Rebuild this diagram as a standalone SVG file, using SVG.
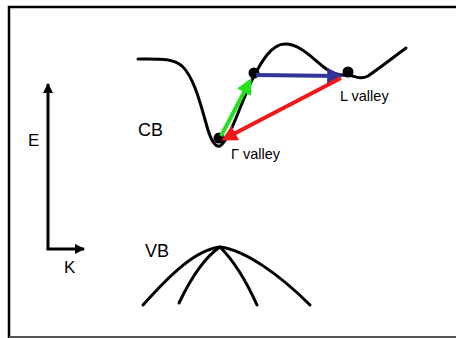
<svg xmlns="http://www.w3.org/2000/svg" width="456" height="338" viewBox="0 0 456 338">
<defs>
<style>
.curve{fill:none;stroke:#000;stroke-width:3;stroke-linecap:round;stroke-linejoin:round}
.axis{fill:none;stroke:#000;stroke-width:3}
.lbl{font-family:"Liberation Sans",Arial,sans-serif;fill:#000}
.dot{fill:#000}
</style>
<marker id="ah" viewBox="0 0 10 10" refX="8" refY="5" markerWidth="4" markerHeight="4" orient="auto" markerUnits="strokeWidth"><path d="M0,0L10,5L0,10z" fill="context-stroke"/></marker>
<marker id="axh" viewBox="0 0 10 10" refX="9" refY="5" markerWidth="3.5" markerHeight="3.5" orient="auto" markerUnits="strokeWidth"><path d="M0,0L10,5L0,10z" fill="#000"/></marker>
</defs>
<rect width="456" height="338" fill="#fff"/>
<g id="frame">
<path d="M9,338V7H456" fill="none" stroke="#000" stroke-width="2.5"/>
<path d="M9,337H456" stroke="#555" stroke-width="2"/>
</g>
<g id="axes">
<path class="axis" d="M48,249V84" marker-end="url(#axh)"/>
<path class="axis" d="M46.5,249H84" marker-end="url(#axh)"/>
<text class="lbl" x="28" y="146" font-size="17">E</text>
<text class="lbl" x="64" y="273" font-size="17">K</text>
</g>
<g id="cb">
<path class="curve" d="M138,59 C160,59 172,58 182,66 C195,78 202,110 208,130 C212,143 216,147 220,146 C230,140 242,100 252,80 C262,60 272,44 285,44 C300,44 312,58 325,68 C333,74 340,76 348,75 C355,76 360,80 368,76 C380,68 395,56 406,48"/>
<text class="lbl" x="138" y="136" font-size="18">CB</text>
</g>
<g id="vb">
<path class="curve" d="M143,305 C170,275 195,250 220,247 C245,250 280,275 310,305"/>
<path class="curve" d="M179,303 C190,280 205,257 220,247 C235,262 248,285 257,305"/>
<text class="lbl" x="145" y="257" font-size="18">VB</text>
</g>
<g id="gamma">
<circle class="dot" cx="219" cy="138" r="5.5"/>
<text class="lbl" x="231" y="159" font-size="14.5">Γ valley</text>
</g>
<g id="mid">
<circle class="dot" cx="254" cy="73" r="5.5"/>
</g>
<g id="lvalley">
<circle class="dot" cx="348" cy="72" r="5.5"/>
<text class="lbl" x="340" y="101" font-size="14.5">L valley</text>
</g>
<g id="connectors">
<path d="M221,136 L250,81" stroke="#22e01e" stroke-width="4" fill="none" marker-end="url(#ah)"/>
<path d="M256,75 L340,76" stroke="#33339a" stroke-width="4" fill="none" marker-end="url(#ah)"/>
<path d="M341,78 L224,139" stroke="#f01818" stroke-width="4" fill="none" marker-end="url(#ah)"/>
</g>
</svg>
